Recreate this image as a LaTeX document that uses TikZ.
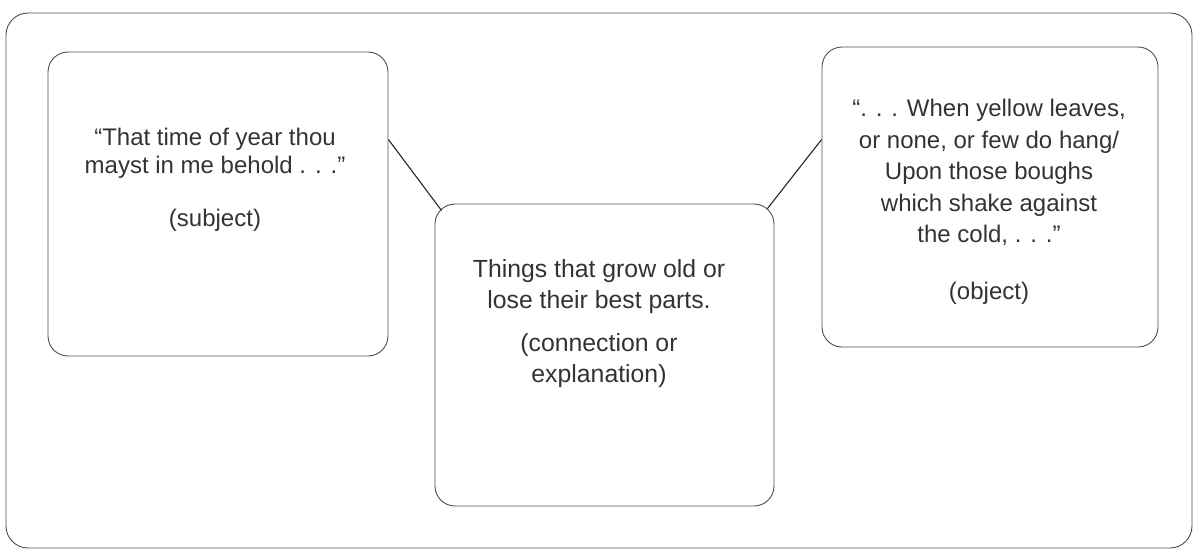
\documentclass[tikz,border=0pt]{standalone}
\usepackage{fontspec}
\setmainfont{Liberation Sans}
\usetikzlibrary{calc}
\begin{document}
\begin{tikzpicture}[x=1pt,y=-1pt,
  panel/.style={draw=black!70, line width=0.9pt, rounded corners=20pt, inner sep=0pt},
  words/.style={align=center, text=black!80, inner sep=0pt, anchor=north},
  link/.style={draw=black!85, line width=1.1pt}]
\useasboundingbox (0,0) rectangle (1196,550);

% outer frame
\node[panel, rounded corners=22pt, minimum width=1186pt, minimum height=535pt] (frame) at (599,280.5) {};

% the three boxes
\node[panel, minimum width=340pt, minimum height=304pt] (subj) at (218,204) {};
\node[panel, minimum width=339pt, minimum height=302pt] (conn) at (604.5,355) {};
\node[panel, minimum width=336pt, minimum height=300pt] (obj) at (990,197) {};

% texts
\node[words, font=\fontsize{24}{28.5}\selectfont] (subjtext) at (215,127.5)
  {“That time of year thou\\ mayst in me behold . . .”\\[24pt] (subject)};
\node[words, font=\fontsize{24.8}{31.5}\selectfont] (conntext) at (599,259)
  {Things that grow old or\\ lose their best parts.\\[11pt] (connection or\\ explanation)};
\node[words, font=\fontsize{24}{31.5}\selectfont] (objtext) at (989,99)
  {“. . . When yellow leaves,\\ or none, or few do hang/\\ Upon those boughs\\ which shake against\\ the cold, . . .”\\[25pt] (object)};

% connectors
\draw[link] ($(subj.north east)+(0,88)$) -- ($(conn.north west)+(7,7)$);
\draw[link] ($(conn.north east)+(-7,5)$) -- ($(obj.north west)+(0,93)$);
\end{tikzpicture}
\end{document}
